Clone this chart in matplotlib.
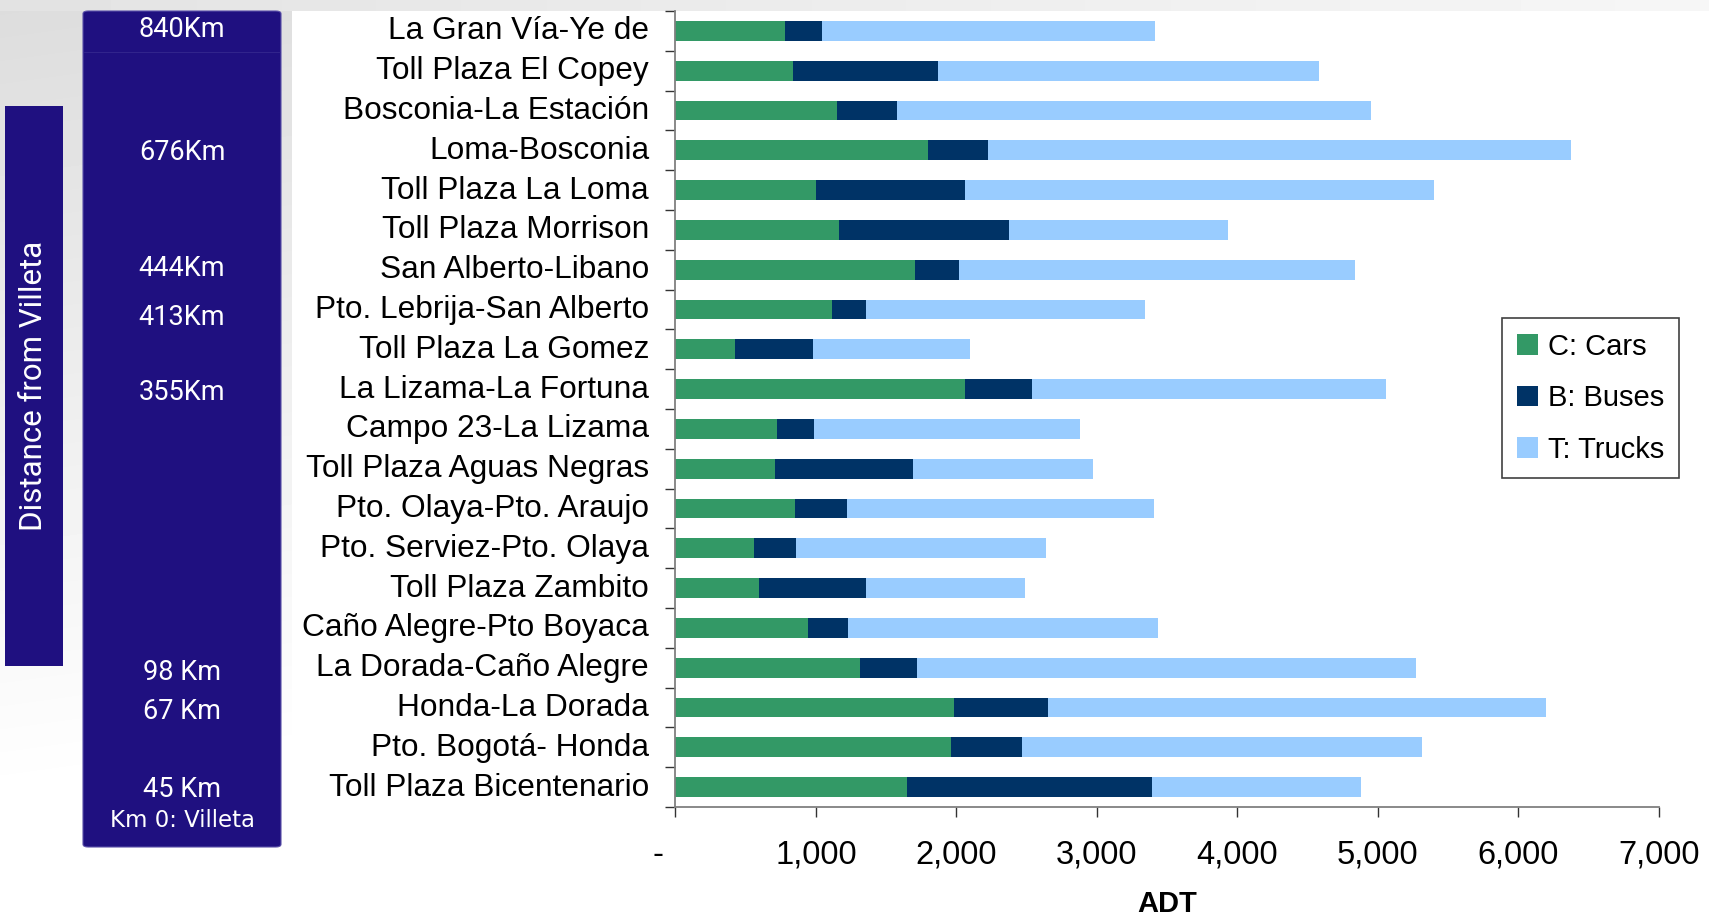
import numpy as np
import matplotlib
matplotlib.use("Agg")
import matplotlib.pyplot as plt
from matplotlib.patches import Rectangle, FancyBboxPatch
from matplotlib.transforms import ScaledTranslation

# ---------------- data ----------------
categories = ["La Gran Vía-Ye de", "Toll Plaza El Copey", "Bosconia-La Estación",
              "Loma-Bosconia", "Toll Plaza La Loma", "Toll Plaza Morrison",
              "San Alberto-Libano", "Pto. Lebrija-San Alberto", "Toll Plaza La Gomez",
              "La Lizama-La Fortuna", "Campo 23-La Lizama", "Toll Plaza Aguas Negras",
              "Pto. Olaya-Pto. Araujo", "Pto. Serviez-Pto. Olaya", "Toll Plaza Zambito",
              "Caño Alegre-Pto Boyaca", "La Dorada-Caño Alegre", "Honda-La Dorada",
              "Pto. Bogotá- Honda", "Toll Plaza Bicentenario"]
cars = [780, 840, 1150, 1800, 1000, 1165, 1705, 1115, 425, 2060,
        725, 710, 850, 560, 595, 945, 1315, 1980, 1960, 1650]
buses = [260, 1030, 425, 425, 1060, 1210, 315, 245, 555, 475,
         260, 980, 370, 295, 760, 285, 405, 670, 505, 1740]
trucks = [2375, 2710, 3375, 4150, 3340, 1555, 2820, 1985, 1115, 2520,
          1895, 1280, 2190, 1780, 1135, 2205, 3550, 3545, 2850, 1490]
series_names = ["C: Cars", "B: Buses", "T: Trucks"]
x_ticks = [0, 1000, 2000, 3000, 4000, 5000, 6000, 7000]
x_ticklabels = ["-", "1,000", "2,000", "3,000", "4,000", "5,000", "6,000", "7,000"]
km_labels = ["840Km", "676Km", "444Km", "413Km", "355Km", "98 Km", "67 Km", "45 Km"]
km_origin = "Km 0: Villeta"
side_title = "Distance from Villeta"
x_title = "ADT"

colors = ["#339966", "#003366", "#99CCFF"]
panel_color = "#1F1080"

W, H = 1709, 916
fig = plt.figure(figsize=(W / 100, H / 100), dpi=100)


def fx(x):
    return x / W


def fy(y):
    return 1 - y / H


# ---------------- background ----------------
bg = fig.add_axes([0, 0, 1, 1], zorder=-10)
yy, xx = np.mgrid[0:H:4, 0:W:4]
v = 0.865 + 0.135 * np.clip(0.3 * xx / W + 1.15 * yy / H, 0, 1)
bg.imshow(v, cmap="gray", vmin=0, vmax=1, extent=[0, 1, 0, 1], aspect="auto",
          interpolation="bilinear")
bg.add_patch(Rectangle((fx(292), 0), 1 - fx(292), fy(11), color="white", lw=0))
# top strip
top = np.linspace(0.89, 0.965, 200)[None, :]
bg.imshow(top, cmap="gray", vmin=0, vmax=1, extent=[0, 1, fy(11), 1], aspect="auto")
bg.set_xlim(0, 1)
bg.set_ylim(0, 1)
bg.axis("off")

# left panels
bg.add_patch(FancyBboxPatch((fx(83), fy(847)), fx(281) - fx(83), fy(11) - fy(847),
                            boxstyle="round,pad=0,rounding_size=0.003",
                            fc=panel_color, ec="#5a50a8", lw=0.8))
bg.plot([fx(84), fx(280)], [fy(52), fy(52)], color="#3a2e92", lw=0.5)
bg.add_patch(Rectangle((fx(5), fy(666)), fx(63) - fx(5), fy(106) - fy(666),
                       fc=panel_color, ec="none"))
fig.text(fx(34), fy(386), side_title, rotation=90, color="white", ha="center",
         va="center", fontsize=22.5, family="Roboto")

km_y = [37, 160, 276, 325, 400, 680, 719, 797]
for lab, y in zip(km_labels, km_y):
    fig.text(fx(182), fy(y), lab, color="white", ha="center", va="baseline",
             fontsize=19.5, family="Roboto")
fig.text(fx(182), fy(827), km_origin, color="white", ha="center", va="baseline",
         fontsize=16.5, family="DejaVu Sans")

# ---------------- chart ----------------
ax = fig.add_axes([fx(675.4), fy(807), fx(1658.8) - fx(675.4), fy(11) - fy(807)])
ax.set_facecolor("none")
n = len(categories)
ypos = np.arange(n)
left = np.zeros(n)
for vals, name, c in zip([cars, buses, trucks], series_names, colors):
    ax.barh(ypos, vals, left=left, height=0.5, color=c, label=name, lw=0)
    left = left + np.array(vals)

ax.set_ylim(n - 0.5, -0.5)
ax.set_xlim(0, 7000)
ax.set_yticks(ypos)
ax.set_yticklabels(categories, fontsize=22.8, family="Liberation Sans")
ax.set_yticks(np.arange(-0.5, n, 1.0), minor=True)
ax.tick_params(axis="y", which="major", length=0, pad=19)
ax.tick_params(axis="y", which="minor", length=7.5, width=1.0, color="#333333",
               direction="out")
for t in ax.get_yticklabels():
    t.set_transform(t.get_transform() + ScaledTranslation(0, 3 / 100, fig.dpi_scale_trans))
ax.set_xticks(x_ticks)
ax.set_xticklabels(x_ticklabels, fontsize=23.5, family="Liberation Sans")
ax.tick_params(axis="x", length=7.5, width=1.0, color="#333333", pad=16)
for s in ["top", "right"]:
    ax.spines[s].set_visible(False)
for s in ["left", "bottom"]:
    ax.spines[s].set_color("#808080")
    ax.spines[s].set_linewidth(1.3)

# shift "-" label left
lbl0 = ax.xaxis.get_major_ticks()[0].label1
lbl0.set_transform(lbl0.get_transform() + ScaledTranslation(-17 / 100, 0, fig.dpi_scale_trans))

ax.set_xlabel(x_title, fontsize=21, fontweight="bold", family="Liberation Sans", labelpad=14)

leg = fig.legend(loc="upper left", bbox_to_anchor=(fx(1502), fy(318)), borderaxespad=0,
                 prop={"family": "Liberation Sans", "size": 21}, frameon=True,
                 fancybox=False, edgecolor="#111111", handlelength=0.72, handleheight=0.72,
                 labelspacing=0.81, handletextpad=0.35, borderpad=0.5)
leg.get_frame().set_linewidth(1.2)

fig.savefig("out.png", dpi=100)
